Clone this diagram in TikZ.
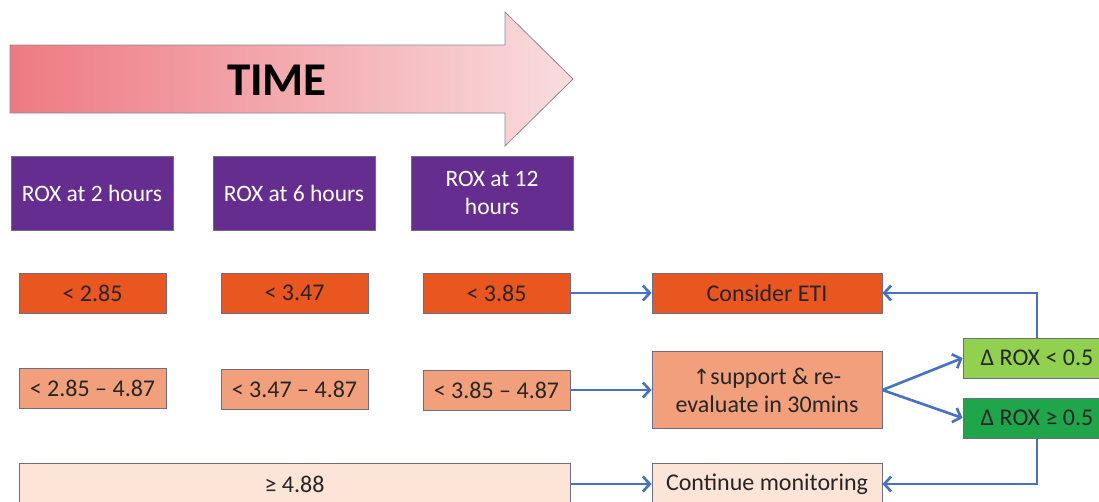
\documentclass[tikz,border=0pt]{standalone}
\usepackage{fontspec}
\setmainfont{Carlito}
\newfontfamily\symfont{DejaVu Sans}
\usetikzlibrary{arrows.meta}
\definecolor{purp}{HTML}{662D91}
\definecolor{redo}{HTML}{E9561F}
\definecolor{salm}{HTML}{F2A07B}
\definecolor{peach}{HTML}{FCE4D6}
\definecolor{lgreen}{HTML}{92D050}
\definecolor{dgreen}{HTML}{1FA64A}
\definecolor{conblue}{HTML}{4472C4}
\definecolor{edge}{HTML}{6A6F85}
\definecolor{arrL}{HTML}{EE7A82}
\definecolor{arrR}{HTML}{F9DCDE}
\tikzset{
  box/.style={draw=edge, line width=0.8pt, inner sep=2pt, align=center, font=\fontsize{24}{28}\selectfont, text=black!85},
  hdr/.style={box, fill=purp, text=white, minimum width=162pt, minimum height=74pt, font=\fontsize{23.5}{28}\selectfont},
  thr/.style={box, minimum width=147pt, minimum height=40pt},
  act/.style={box, minimum width=230pt},
  conn/.style={draw=conblue, line width=2.6pt, -{Straight Barb[length=7pt,width=15pt,line width=2.6pt]}},
}
\begin{document}
\begin{tikzpicture}[x=1pt,y=-1pt]
\useasboundingbox (0,0) rectangle (1099,501);
% time arrow
\shade[left color=arrL, right color=arrR] (10,45) -- (505,45) -- (505,12) -- (573,79) -- (505,146) -- (505,113) -- (10,113) -- cycle;
\draw[edge!80, line width=0.8pt] (10,45) -- (505,45) -- (505,12) -- (573,79) -- (505,146) -- (505,113) -- (10,113) -- cycle;
\node[font=\fontsize{47}{52}\selectfont\bfseries, text=black] (time) at (277,80) {TIME};
% headers
\node[hdr] (h2) at (92,193) {ROX at 2 hours};
\node[hdr] (h6) at (294,193) {ROX at 6 hours};
\node[hdr] (h12) at (492,193) {ROX at 12\\hours};
% row 1
\node[thr, fill=redo] (a1) at (92.5,293) {< 2.85};
\node[thr, fill=redo] (a2) at (294.5,293) {< 3.47};
\node[thr, fill=redo] (a3) at (496.5,293) {< 3.85};
\node[act, fill=redo, minimum height=40pt] (eti) at (767,293) {Consider ETI};
% row 2
\node[thr, fill=salm] (b1) at (92.5,388) {< 2.85 -- 4.87};
\node[thr, fill=salm] (b2) at (294.5,389) {< 3.47 -- 4.87};
\node[thr, fill=salm] (b3) at (496.5,390) {< 3.85 -- 4.87};
\node[act, fill=salm, minimum height=77pt] (sup) at (767,390) {{\symfont\fontsize{21}{26}\selectfont↑}support \& re-\\evaluate in 30mins};
% green
\node[box, fill=lgreen, minimum width=148pt, minimum height=40pt] (lo) at (1037,358) {Δ ROX < 0.5};
\node[box, fill=dgreen, minimum width=148pt, minimum height=40pt] (hi) at (1037,418) {Δ ROX ≥ 0.5};
% row 3
\node[box, fill=peach, minimum width=551pt, minimum height=42pt] (c1) at (294.5,484) {≥ 4.88};
\node[act, fill=peach, minimum height=42pt] (mon) at (767,484) {Continue monitoring};
% connectors
\draw[conn] (a3.east) -- (eti.west);
\draw[conn] (b3.east) -- (sup.west);
\draw[conn] (c1.east |- mon.west) -- (mon.west);
\draw[conn] (sup.east) -- (lo.west);
\draw[conn] (sup.east) -- (hi.west);
\draw[conn] (lo.north) |- (eti.east);
\draw[conn] (hi.south) |- (mon.east);
\end{tikzpicture}
\end{document}
